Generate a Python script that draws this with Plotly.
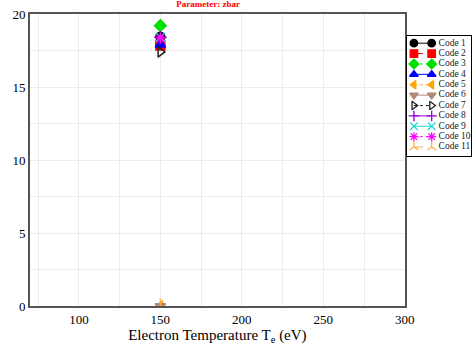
import plotly.graph_objects as go

codes = ["Code 1", "Code 2", "Code 3", "Code 4", "Code 5", "Code 6",
         "Code 7", "Code 8", "Code 9", "Code 10", "Code 11"]
te = [150]
zbar = {
    "Code 1": [18.45],
    "Code 2": [17.85],
    "Code 3": [19.2],
    "Code 4": [17.9],
    "Code 5": [0.0],
    "Code 6": [0.0],
    "Code 7": [17.4],
    "Code 8": [18.4],
    "Code 9": [18.4],
    "Code 10": [18.35],
    "Code 11": [0.0],
}
colors = ["black", "red", "#00e000", "blue", "orange", "#b08878",
          "#222222", "#9400d3", "#2bd4d4", "magenta", "#ffaa44"]
symbols = ["circle", "square", "diamond", "triangle-up", "triangle-left",
           "triangle-down", "triangle-right-open", "cross-thin-open",
           "x-thin-open", "asterisk-open", "y-up-open"]
dashes = ["solid", "dash", "dot", "solid", "dot", "solid",
          "dot", "solid", "solid", "dot", "dash"]

fig = go.Figure()
for i, c in enumerate(codes):
    fig.add_trace(go.Scatter(
        x=te, y=zbar[c], name=c, mode="lines+markers", showlegend=False,
        line=dict(color=colors[i], dash=dashes[i], width=1),
        marker=dict(symbol=symbols[i], color=colors[i], size=9,
                    line=dict(color=colors[i], width=1.5)),
        xaxis="x", yaxis="y",
    ))

# compact legend drawn on its own small axes
for i, c in enumerate(codes):
    fig.add_trace(go.Scatter(
        x=[7, 25], y=[i, i], mode="lines+markers", showlegend=False,
        line=dict(color=colors[i], dash=dashes[i], width=1),
        marker=dict(symbol=symbols[i], color=colors[i], size=7.5,
                    line=dict(color=colors[i], width=1.3)),
        xaxis="x2", yaxis="y2", hoverinfo="skip",
    ))
fig.add_trace(go.Scatter(
    x=[32] * len(codes), y=list(range(len(codes))), text=codes,
    mode="text", textposition="middle right", showlegend=False,
    textfont=dict(size=9.5, family="Liberation Serif, serif", color="#222222"),
    xaxis="x2", yaxis="y2", hoverinfo="skip", cliponaxis=False,
))

serif = "Liberation Serif, Times New Roman, serif"
fig.update_layout(
    width=474, height=345,
    margin=dict(l=30, r=2, t=14, b=39, autoexpand=False),
    paper_bgcolor="white", plot_bgcolor="white",
    font=dict(family=serif, color="black"),
    title=dict(text="<b>Parameter: zbar</b>", font=dict(size=9, color="red", family=serif),
               x=0.439, xanchor="center", y=0.998, yanchor="top"),
    showlegend=False,
    xaxis=dict(domain=[0, 0.848], range=[70, 300], tickvals=[100, 150, 200, 250, 300],
               showgrid=True, gridcolor="#ececec",
               minor=dict(dtick=25, showgrid=True, gridcolor="#ececec"),
               showline=True, linecolor="#555555", linewidth=2, mirror=True,
               ticks="", tickfont=dict(size=13), automargin=False,
               title=dict(text="Electron Temperature T<sub>e</sub> (eV)",
                          font=dict(size=15), standoff=2),
               zeroline=False, anchor="y"),
    yaxis=dict(domain=[0, 1], range=[0, 20], tickvals=[0, 5, 10, 15, 20],
               showgrid=True, gridcolor="#ececec",
               minor=dict(dtick=2.5, showgrid=True, gridcolor="#ececec"),
               showline=True, linecolor="#555555", linewidth=2, mirror=True,
               ticks="", tickfont=dict(size=13), zeroline=False, anchor="x",
               automargin=False),
    xaxis2=dict(domain=[0.853, 0.998], range=[0, 65], showgrid=False,
                showticklabels=False, ticks="", zeroline=False,
                showline=True, linecolor="black", linewidth=1, mirror=True,
                anchor="y2", fixedrange=True, automargin=False),
    yaxis2=dict(domain=[0.514, 0.925], range=[10.85, -0.7], showgrid=False,
                showticklabels=False, ticks="", zeroline=False,
                showline=True, linecolor="black", linewidth=1, mirror=True,
                anchor="x2", fixedrange=True, automargin=False),
)
fig.write_html("out.html")
